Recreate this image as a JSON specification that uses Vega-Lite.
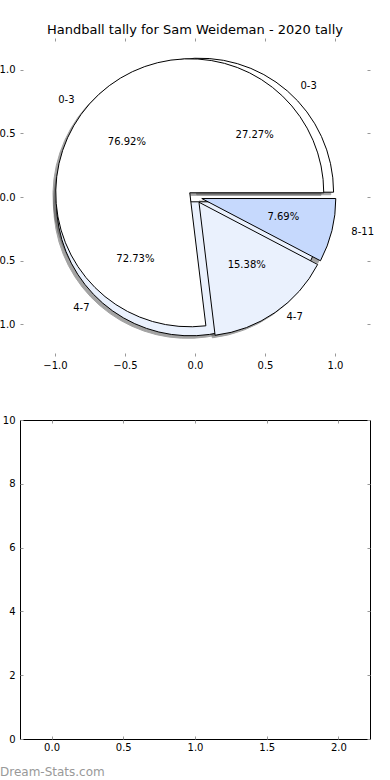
{
  "$schema": "https://vega.github.io/schema/vega-lite/v6.json",
  "padding": {"left": -10, "top": 23, "right": 5, "bottom": 5},
  "bounds": "flush",
  "spacing": 64,
  "background": "white",
  "config": {
    "font": "DejaVu Sans",
    "view": {"stroke": null},
    "axis": {
      "labelFont": "DejaVu Sans",
      "labelFontSize": 10,
      "labelColor": "black",
      "tickColor": "#999999",
      "tickWidth": 1,
      "domain": false,
      "grid": false,
      "labelFlush": false,
      "labelOverlap": false,
      "minExtent": 0,
      "title": null
    }
  },
  "vconcat": [
    {
      "width": 350,
      "height": 318,
      "title": {
        "text": "Handball tally for Sam Weideman - 2020 tally",
        "fontSize": 13,
        "font": "DejaVu Sans",
        "fontWeight": "normal",
        "anchor": "middle",
        "baseline": "alphabetic",
        "offset": -9,
        "color": "black"
      },
      "data": {
        "values": [
          {"pie": "A", "label": "0-3", "pct": 27.27, "start": 0, "end": 27.27},
          {"pie": "A", "label": "4-7", "pct": 72.73, "start": 27.27, "end": 100},
          {"pie": "B", "label": "0-3", "pct": 76.92, "start": 0, "end": 76.92},
          {"pie": "B", "label": "4-7", "pct": 15.38, "start": 76.92, "end": 92.31},
          {"pie": "B", "label": "8-11", "pct": 7.69, "start": 92.31, "end": 100}
        ]
      },
      "transform": [
        {"calculate": "(datum.start + datum.end) / 100 * PI", "as": "mid"},
        {"calculate": "0.05 * cos(datum.mid)", "as": "cx"},
        {"calculate": "0.05 * sin(datum.mid)", "as": "cy"},
        {"calculate": "datum.cx - 0.02", "as": "sx"},
        {"calculate": "datum.cy - 0.02", "as": "sy"},
        {"calculate": "datum.cx + 1.1 * cos(datum.mid)", "as": "lx"},
        {"calculate": "datum.cy + 1.1 * sin(datum.mid)", "as": "ly"},
        {"calculate": "datum.cx + 0.6 * cos(datum.mid)", "as": "px"},
        {"calculate": "datum.cy + 0.6 * sin(datum.mid)", "as": "py"},
        {"calculate": "format(datum.pct, '.2f') + '%'", "as": "pctText"}
      ],
      "resolve": {"axis": {"x": "independent", "y": "independent"}},
      "layer": [
        {
          "mark": {"type": "arc", "radius": 134, "fill": "#4a4a4a", "stroke": "#4a4a4a", "strokeWidth": 1, "opacity": 0.5},
          "encoding": {
            "x": {"field": "sx", "type": "quantitative", "scale": {"domain": [-1.25, 1.25], "nice": false, "zero": false},
                  "axis": {"orient": "bottom", "values": [-1, -0.5, 0, 0.5, 1], "format": ".1f", "ticks": false, "labelPadding": 4}},
            "y": {"field": "sy", "type": "quantitative", "scale": {"domain": [-1.25, 1.25], "nice": false, "zero": false},
                  "axis": {"orient": "left", "values": [-1, -0.5, 0, 0.5, 1], "format": ".1f", "ticks": false, "labelPadding": 5}},
            "theta": {"field": "start", "type": "quantitative", "stack": null, "scale": {"domain": [0, 100], "range": [1.5707963, -4.712389]}},
            "theta2": {"field": "end"}
          }
        },
        {
          "transform": [{"filter": "datum.pie === 'A'"}],
          "mark": {"type": "arc", "radius": 134, "stroke": "black", "strokeWidth": 1},
          "encoding": {
            "x": {"field": "cx", "type": "quantitative", "scale": {"domain": [-1.25, 1.25], "nice": false, "zero": false},
                  "axis": {"orient": "top", "values": [-1, -0.5, 0, 0.5, 1], "labels": false, "tickSize": -3}},
            "y": {"field": "cy", "type": "quantitative", "scale": {"domain": [-1.25, 1.25], "nice": false, "zero": false},
                  "axis": {"orient": "right", "values": [-1, -0.5, 0, 0.5, 1], "labels": false, "tickSize": -3}},
            "theta": {"field": "start", "type": "quantitative", "stack": null, "scale": {"domain": [0, 100], "range": [1.5707963, -4.712389]}},
            "theta2": {"field": "end"},
            "color": {"field": "label", "type": "nominal", "legend": null,
                      "scale": {"domain": ["0-3", "4-7", "8-11"], "range": ["#ffffff", "#eaf1fd", "#c6d9fd"]}}
          }
        },
        {
          "transform": [{"filter": "datum.pie === 'B'"}],
          "mark": {"type": "arc", "radius": 134, "stroke": "black", "strokeWidth": 1},
          "encoding": {
            "x": {"field": "cx", "type": "quantitative", "scale": {"domain": [-1.25, 1.25], "nice": false, "zero": false},
                  "axis": {"orient": "bottom", "values": [-1, -0.5, 0, 0.5, 1], "labels": false, "tickSize": -3}},
            "y": {"field": "cy", "type": "quantitative", "scale": {"domain": [-1.25, 1.25], "nice": false, "zero": false},
                  "axis": {"orient": "left", "values": [-1, -0.5, 0, 0.5, 1], "labels": false, "tickSize": -3}},
            "theta": {"field": "start", "type": "quantitative", "stack": null, "scale": {"domain": [0, 100], "range": [1.5707963, -4.712389]}},
            "theta2": {"field": "end"},
            "color": {"field": "label", "type": "nominal", "legend": null,
                      "scale": {"domain": ["0-3", "4-7", "8-11"], "range": ["#ffffff", "#eaf1fd", "#c6d9fd"]}}
          }
        },
        {
          "transform": [{"filter": "datum.lx > 0"}],
          "mark": {"type": "text", "align": "left", "baseline": "middle", "fontSize": 10, "color": "black"},
          "encoding": {
            "x": {"field": "lx", "type": "quantitative", "scale": {"domain": [-1.25, 1.25], "nice": false, "zero": false}, "axis": null},
            "y": {"field": "ly", "type": "quantitative", "scale": {"domain": [-1.25, 1.25], "nice": false, "zero": false}, "axis": null},
            "text": {"field": "label"}
          }
        },
        {
          "transform": [{"filter": "datum.lx <= 0"}],
          "mark": {"type": "text", "align": "right", "baseline": "middle", "fontSize": 10, "color": "black"},
          "encoding": {
            "x": {"field": "lx", "type": "quantitative", "scale": {"domain": [-1.25, 1.25], "nice": false, "zero": false}, "axis": null},
            "y": {"field": "ly", "type": "quantitative", "scale": {"domain": [-1.25, 1.25], "nice": false, "zero": false}, "axis": null},
            "text": {"field": "label"}
          }
        },
        {
          "mark": {"type": "text", "align": "center", "baseline": "middle", "fontSize": 10, "color": "black"},
          "encoding": {
            "x": {"field": "px", "type": "quantitative", "scale": {"domain": [-1.25, 1.25], "nice": false, "zero": false}, "axis": null},
            "y": {"field": "py", "type": "quantitative", "scale": {"domain": [-1.25, 1.25], "nice": false, "zero": false}, "axis": null},
            "text": {"field": "pctText"}
          }
        }
      ]
    },
    {
      "width": 350,
      "height": 319,
      "view": {"stroke": "black", "strokeWidth": 1},
      "title": {
        "text": "Dream-Stats.com",
        "orient": "bottom",
        "anchor": "start",
        "frame": "group",
        "dx": -20,
        "offset": 24,
        "baseline": "alphabetic",
        "fontSize": 12,
        "font": "DejaVu Sans",
        "fontWeight": "normal",
        "color": "#999999"
      },
      "data": {"values": []},
      "resolve": {"axis": {"x": "independent", "y": "independent"}},
      "layer": [
        {
          "mark": {"type": "point", "opacity": 0},
          "encoding": {
            "x": {"field": "a", "type": "quantitative", "scale": {"domain": [-0.22, 2.22], "nice": false, "zero": false},
                  "axis": {"orient": "bottom", "values": [0, 0.5, 1, 1.5, 2], "format": ".1f", "ticks": false, "labelPadding": 3}},
            "y": {"field": "b", "type": "quantitative", "scale": {"domain": [0, 10], "nice": false, "zero": false},
                  "axis": {"orient": "left", "values": [0, 2, 4, 6, 8, 10], "format": "d", "ticks": false, "labelPadding": 5}}
          }
        },
        {
          "mark": {"type": "point", "opacity": 0},
          "encoding": {
            "x": {"field": "a", "type": "quantitative", "scale": {"domain": [-0.22, 2.22], "nice": false, "zero": false},
                  "axis": {"orient": "top", "values": [0, 0.5, 1, 1.5, 2], "labels": false, "tickSize": -3}},
            "y": {"field": "b", "type": "quantitative", "scale": {"domain": [0, 10], "nice": false, "zero": false},
                  "axis": {"orient": "right", "values": [0, 2, 4, 6, 8, 10], "labels": false, "tickSize": -3}}
          }
        },
        {
          "mark": {"type": "point", "opacity": 0},
          "encoding": {
            "x": {"field": "a", "type": "quantitative", "scale": {"domain": [-0.22, 2.22], "nice": false, "zero": false},
                  "axis": {"orient": "bottom", "values": [0, 0.5, 1, 1.5, 2], "labels": false, "tickSize": -3}},
            "y": {"field": "b", "type": "quantitative", "scale": {"domain": [0, 10], "nice": false, "zero": false},
                  "axis": {"orient": "left", "values": [0, 2, 4, 6, 8, 10], "labels": false, "tickSize": -3}}
          }
        }
      ]
    }
  ]
}
